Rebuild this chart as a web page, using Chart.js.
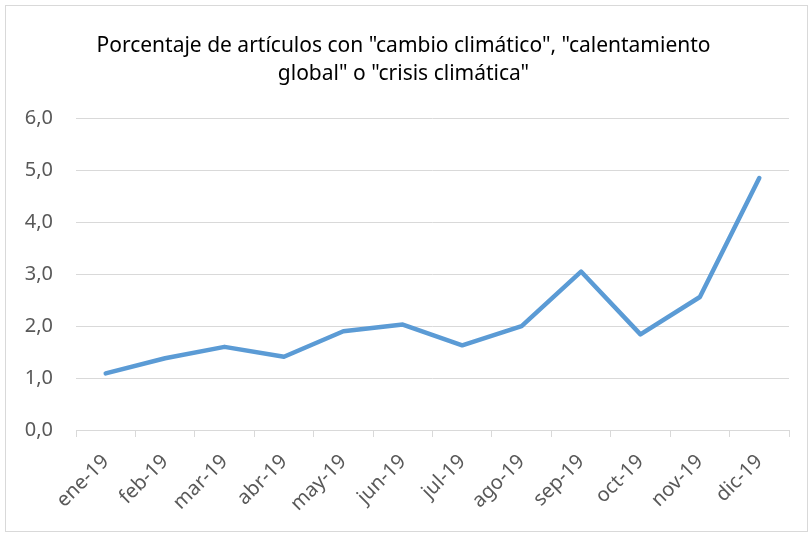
<!DOCTYPE html>
<html>
<head>
<meta charset="utf-8">
<script src="https://cdn.jsdelivr.net/npm/chart.js@4/dist/chart.umd.min.js"></script>
<style>
  html, body { margin: 0; padding: 0; background: #fff; }
  #wrap { width: 811px; height: 535px; }
</style>
</head>
<body>
<div id="wrap"><canvas id="chart" width="811" height="535"></canvas></div>
<script>
const months = ['ene-19', 'feb-19', 'mar-19', 'abr-19', 'may-19', 'jun-19',
  'jul-19', 'ago-19', 'sep-19', 'oct-19', 'nov-19', 'dic-19'];
const percentages = [1.09, 1.38, 1.6, 1.41, 1.9, 2.03, 1.63, 2.0, 3.05, 1.84, 2.56, 4.85];
const titleLines = ['Porcentaje de artículos con "cambio climático", "calentamiento',
  'global" o "crisis climática"'];

const FONT = "'Noto Sans', sans-serif";

// light grey frame around the whole chart, like the Excel chart area
const frame = {
  id: 'frame',
  beforeDraw(chart) {
    const ctx = chart.ctx;
    ctx.save();
    ctx.fillStyle = '#fff';
    ctx.fillRect(0, 0, chart.width, chart.height);
    ctx.strokeStyle = '#d9d9d9';
    ctx.lineWidth = 1;
    ctx.strokeRect(5.5, 5.5, 802, 526);
    ctx.restore();
  }
};

new Chart(document.getElementById('chart'), {
  type: 'line',
  data: {
    labels: months,
    datasets: [{
      data: percentages,
      borderColor: '#5b9bd5',
      borderWidth: 4.5,
      borderCapStyle: 'round',
      borderJoinStyle: 'round',
      pointRadius: 0,
      tension: 0,
      fill: false
    }]
  },
  options: {
    responsive: false,
    animation: false,
    layout: { padding: { left: 18, right: 22, top: 0, bottom: 0 } },
    plugins: {
      legend: { display: false },
      tooltip: { enabled: false },
      title: {
        display: true,
        text: titleLines,
        color: '#000',
        font: { family: FONT, size: 21, weight: 'normal', lineHeight: 1.34 },
        padding: { top: 32, bottom: 30 }
      }
    },
    scales: {
      x: {
        offset: true,
        grid: {
          offset: true,
          drawOnChartArea: false,
          drawTicks: true,
          tickLength: 7,
          color: '#d9d9d9'
        },
        border: { display: true, color: '#d9d9d9' },
        ticks: {
          color: '#595959',
          font: { family: FONT, size: 20 },
          maxRotation: 45,
          minRotation: 45,
          padding: 13
        },
        afterFit(scale) { scale.height = 105; }
      },
      y: {
        min: 0,
        max: 6,
        grid: { color: '#d9d9d9', drawTicks: false },
        border: { display: false },
        ticks: {
          stepSize: 1,
          color: '#595959',
          padding: 23,
          font: { family: FONT, size: 20 },
          callback: v => v.toFixed(1).replace('.', ',')
        },
        afterFit(scale) { scale.width = 58; }
      }
    }
  },
  plugins: [frame]
});
</script>
</body>
</html>
